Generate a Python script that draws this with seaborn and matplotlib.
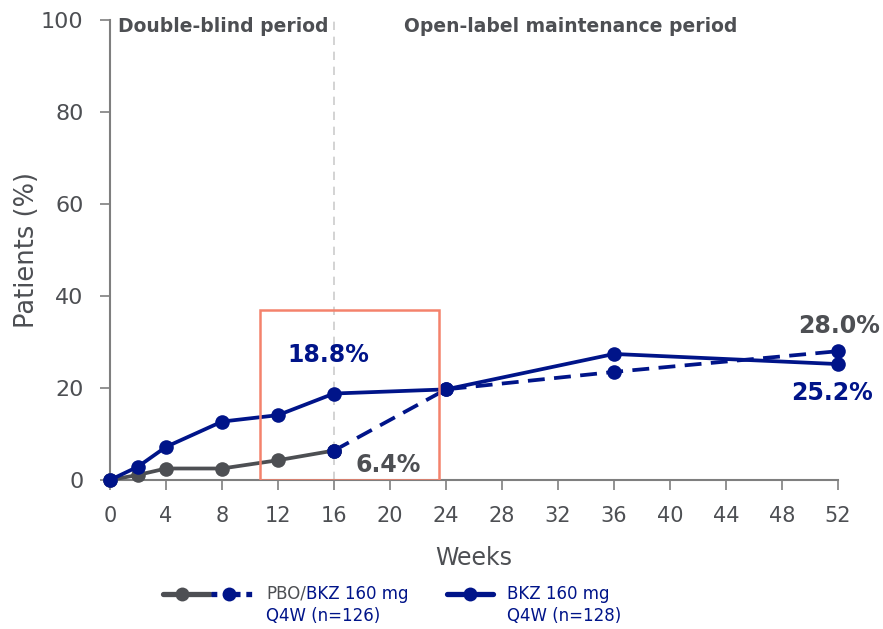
import matplotlib
matplotlib.use("Agg")
import matplotlib.pyplot as plt
from matplotlib.lines import Line2D
from matplotlib.patches import Rectangle
import seaborn as sns
import pandas as pd

# ---- data ----
weeks_db = [0, 2, 4, 8, 12, 16]
pbo_db = [0, 1.1, 2.5, 2.5, 4.3, 6.4]
weeks_ol = [16, 24, 36, 52]
pbo_ol = [6.4, 19.7, 23.5, 28.0]
bkz_weeks = [0, 2, 4, 8, 12, 16, 24, 36, 52]
bkz_vals = [0, 2.9, 7.2, 12.7, 14.1, 18.8, 19.7, 27.4, 25.2]
x_ticks = [0, 4, 8, 12, 16, 20, 24, 28, 32, 36, 40, 44, 48, 52]
y_ticks = [0, 20, 40, 60, 80, 100]

NAVY = "#001489"
GREY = "#4d4f53"
AXGREY = "#7f7f7f"
SALMON = "#f4826c"

sns.set_style("white")
plt.rcParams['font.family'] = ['DejaVu Sans']

fig = plt.figure(figsize=(8.83, 6.29), dpi=100)
ax = fig.add_axes([110/883, 1-480/629, (838-110)/883, (480-20)/629])

df_bkz = pd.DataFrame({"week": bkz_weeks, "val": bkz_vals})
df_pdb = pd.DataFrame({"week": weeks_db, "val": pbo_db})
df_pol = pd.DataFrame({"week": weeks_ol, "val": pbo_ol})

ax.axvline(16, color="#cccccc", lw=1.2, ls=(0, (5, 4)), zorder=1)

LW = 2.7
MS = 10.5
sns.lineplot(data=df_pol, x="week", y="val", ax=ax, color=NAVY, lw=LW,
             ls=(0, (4.5, 2.5)), marker="o", markersize=MS, markeredgewidth=0,
             zorder=3)
sns.lineplot(data=df_pdb, x="week", y="val", ax=ax, color=GREY, lw=LW,
             marker="o", markersize=MS, markeredgewidth=0, zorder=4)
# week-16 marker shown in navy
ax.plot([weeks_ol[0]], [pbo_ol[0]], "o", color=NAVY, ms=MS, mew=0, zorder=5)
sns.lineplot(data=df_bkz, x="week", y="val", ax=ax, color=NAVY, lw=LW,
             marker="o", markersize=MS, markeredgewidth=0, zorder=6)

ax.add_patch(Rectangle((10.7, 0), 23.5-10.7, 37, fill=False,
                       edgecolor=SALMON, lw=1.8, zorder=7))

ax.set_xlim(0, 52)
ax.set_ylim(0, 100)
ax.set_xticks(x_ticks)
ax.set_yticks(y_ticks)
ax.set_xlabel("Weeks", fontsize=17, color=GREY, labelpad=14)
ax.set_ylabel("Patients (%)", fontsize=18.5, color=GREY, labelpad=1)
ax.tick_params(axis="x", labelsize=15, colors=AXGREY, labelcolor=GREY,
               length=7, width=1.2, direction="out", bottom=True, pad=12)
ax.tick_params(axis="y", labelsize=16, colors=AXGREY, labelcolor=GREY,
               length=7, width=1.2, direction="out", left=True, pad=12)
for s in ["top", "right"]:
    ax.spines[s].set_visible(False)
for s in ["left", "bottom"]:
    ax.spines[s].set_color(AXGREY)
    ax.spines[s].set_linewidth(1.5)
for ln in ax.lines:
    ln.set_clip_on(False)

bold = dict(fontsize=17, fontweight="bold", ha="center", va="center")
ax.text(15.6, 27.2, "18.8%", color=NAVY, **bold)
ax.text(19.9, 3.3, "6.4%", color=GREY, **bold)
ax.text(52.1, 33.5, "28.0%", color=GREY, **bold)
ax.text(51.6, 18.9, "25.2%", color=NAVY, **bold)
ax.text(8.1, 98.5, "Double-blind period", color=GREY, fontsize=13.5,
        fontweight="bold", ha="center", va="center")
ax.text(32.9, 98.5, "Open-label maintenance period", color=GREY, fontsize=13.5,
        fontweight="bold", ha="center", va="center")

# ---- legend (figure pixel coordinates) ----
H = 629
def fx(px):
    return px / 883
def fy(py):
    return 1 - py / H

ly = 594
fig.add_artist(Line2D([fx(163), fx(210)], [fy(ly), fy(ly)], color=GREY, lw=3.8,
                      transform=fig.transFigure))
fig.add_artist(Line2D([fx(182)], [fy(ly)], color=GREY, marker="o", ms=10, mew=0,
                      transform=fig.transFigure))
fig.add_artist(Line2D([fx(211), fx(255)], [fy(ly), fy(ly)], color=NAVY, lw=3.8,
                      ls=(0, (1.1, 1.1)), transform=fig.transFigure))
fig.add_artist(Line2D([fx(229)], [fy(ly)], color=NAVY, marker="o", ms=10, mew=0,
                      transform=fig.transFigure))
fig.add_artist(Line2D([fx(447), fx(493)], [fy(ly), fy(ly)], color=NAVY, lw=3.8,
                      transform=fig.transFigure))
fig.add_artist(Line2D([fx(470)], [fy(ly)], color=NAVY, marker="o", ms=10, mew=0,
                      transform=fig.transFigure))

LFS = 12
t1 = fig.text(fx(266), fy(ly), "PBO/", color=GREY, fontsize=LFS, va="center", ha="left")
fig.canvas.draw()
bb = t1.get_window_extent()
fig.text(bb.x1 / fig.bbox.width, fy(ly), "BKZ 160 mg", color=NAVY, fontsize=LFS,
         va="center", ha="left")
fig.text(fx(266), fy(616), "Q4W (n=126)", color=NAVY, fontsize=LFS, va="center", ha="left")
fig.text(fx(507), fy(ly), "BKZ 160 mg", color=NAVY, fontsize=LFS, va="center", ha="left")
fig.text(fx(507), fy(616), "Q4W (n=128)", color=NAVY, fontsize=LFS, va="center", ha="left")

fig.savefig("out.png", dpi=100)
